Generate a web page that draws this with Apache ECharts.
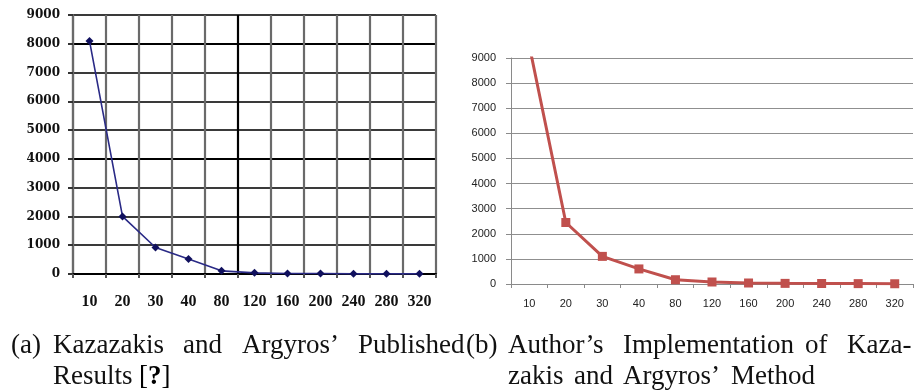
<!DOCTYPE html>
<html>
<head>
<meta charset="utf-8">
<script src="https://cdn.jsdelivr.net/npm/echarts@6/dist/echarts.min.js"></script>
<style>
  html, body { margin: 0; padding: 0; background: #fff; }
  #base { position: absolute; left: 0; top: 0; width: 920px; height: 390px; }
  #pub { position: absolute; left: 0; top: 0; width: 460px; height: 320px; filter: blur(0.45px); }
</style>
</head>
<body>
<div id="base"></div>
<div id="pub"></div>
<script>
// Problem sizes shared by both panels
var sizes = ['10', '20', '30', '40', '80', '120', '160', '200', '240', '280', '320'];

// (a) published results
var publishedValues = [8100, 2000, 920, 520, 110, 40, 15, 15, 5, 5, 5];

// (b) own implementation (first point runs above the 9000 axis limit)
var implementedValues = [9500, 2450, 1100, 600, 170, 80, 40, 25, 20, 15, 10];

var yMin = 0, yMax = 9000, yStep = 1000;

function plainNumber(v) { return String(v); }

// ---------- panel (a): published results ----------
var pubChart = echarts.init(document.getElementById('pub'), null, { renderer: 'canvas' });

// horizontal grid: 0, 4000 and 8000 drawn black, the rest dark grey
var hColors = ['#000', '#3a3a3a', '#3a3a3a', '#3a3a3a', '#000', '#3a3a3a', '#3a3a3a', '#3a3a3a', '#000', '#3a3a3a'];
// vertical grid: the boundary between 80 and 120 drawn black
var vColors = ['#6a6a6a', '#6a6a6a', '#6a6a6a', '#6a6a6a', '#6a6a6a', '#000', '#6a6a6a', '#6a6a6a', '#6a6a6a', '#6a6a6a', '#6a6a6a', '#6a6a6a'];

pubChart.setOption({
  animation: false,
  backgroundColor: 'transparent',
  grid: { left: 73, top: 15, width: 363, height: 259, containLabel: false },
  xAxis: {
    type: 'category',
    data: sizes,
    boundaryGap: true,
    axisLine: { show: true, lineStyle: { color: '#000', width: 2 } },
    axisTick: { show: true, length: 4, lineStyle: { color: '#555', width: 2 } },
    splitLine: { show: true, lineStyle: { color: vColors, width: 2.2 } },
    axisLabel: {
      margin: 20,
      color: '#111',
      fontFamily: 'Liberation Serif',
      fontWeight: 'bold',
      fontSize: 16
    }
  },
  yAxis: {
    type: 'value',
    min: yMin, max: yMax, interval: yStep,
    axisLine: { show: true, lineStyle: { color: '#6a6a6a', width: 2.2 } },
    axisTick: { show: true, length: 5, lineStyle: { color: '#333', width: 2 } },
    splitLine: { show: true, lineStyle: { color: hColors, width: 2 } },
    axisLabel: {
      margin: 13,
      color: '#111',
      fontFamily: 'DejaVu Serif',
      fontWeight: 'bold',
      fontSize: 12,
      formatter: plainNumber
    }
  },
  series: [{
    type: 'line',
    data: publishedValues,
    symbol: 'diamond',
    symbolSize: 8,
    showAllSymbol: true,
    lineStyle: { color: '#2a2a86', width: 1.6 },
    itemStyle: { color: '#10105e' },
    z: 5
  }]
});

// ---------- panel (b) and both captions ----------
var baseChart = echarts.init(document.getElementById('base'), null, { renderer: 'canvas' });

var capFont = 'Liberation Serif';
var capSize = 27;
var line1 = 346, line2 = 377;

function place(text, x, y) {
  return {
    type: 'text', x: x, y: y,
    style: {
      text: text,
      fill: '#111',
      font: capSize + 'px "' + capFont + '"',
      verticalAlign: 'middle', align: 'left'
    }
  };
}

// justified first caption lines, hanging indent on the second lines
var captions = [
  place('(a)', 11, line1),
  place('Kazazakis', 53, line1),
  place('and', 183, line1),
  place('Argyros\u2019', 242, line1),
  place('Published', 358, line1),
  place('(b)', 466, line1),
  place('Author\u2019s', 508, line1),
  place('Implementation', 623, line1),
  place('of', 805, line1),
  place('Kaza-', 847, line1),
  place('Results', 53, line2),
  {
    type: 'text', x: 139, y: line2,
    style: {
      text: '{n|[}{b|?}{n|]}',
      verticalAlign: 'middle', align: 'left',
      rich: {
        n: { fontFamily: capFont, fontSize: capSize, color: '#111' },
        b: { fontFamily: capFont, fontSize: capSize, fontWeight: 'bold', color: '#111' }
      }
    }
  },
  place('zakis', 508, line2),
  place('and', 574, line2),
  place('Argyros\u2019', 623, line2),
  place('Method', 731, line2)
];

baseChart.setOption({
  animation: false,
  backgroundColor: '#fff',
  grid: { left: 511, top: 58, width: 402, height: 226, containLabel: false },
  xAxis: {
    type: 'category',
    data: sizes,
    boundaryGap: true,
    axisLine: { show: true, lineStyle: { color: '#8a8a8a', width: 1 } },
    axisTick: { show: true, length: 4, lineStyle: { color: '#8a8a8a', width: 1 } },
    splitLine: { show: false },
    axisLabel: {
      margin: 14,
      color: '#222',
      fontFamily: 'Liberation Sans',
      fontSize: 11
    }
  },
  yAxis: {
    type: 'value',
    min: yMin, max: yMax, interval: yStep,
    axisLine: { show: true, lineStyle: { color: '#8a8a8a', width: 1 } },
    axisTick: { show: true, length: 5, lineStyle: { color: '#8a8a8a', width: 1 } },
    splitLine: { show: true, lineStyle: { color: '#8f8f8f', width: 1 } },
    axisLabel: {
      margin: 15,
      color: '#222',
      fontFamily: 'Liberation Sans',
      fontSize: 11,
      formatter: plainNumber
    }
  },
  series: [{
    type: 'line',
    data: implementedValues,
    clip: true,
    symbol: 'rect',
    symbolSize: 9,
    showAllSymbol: true,
    lineStyle: { color: '#c0504d', width: 3 },
    itemStyle: { color: '#c0504d' },
    z: 5
  }],
  graphic: captions
});
</script>
</body>
</html>
